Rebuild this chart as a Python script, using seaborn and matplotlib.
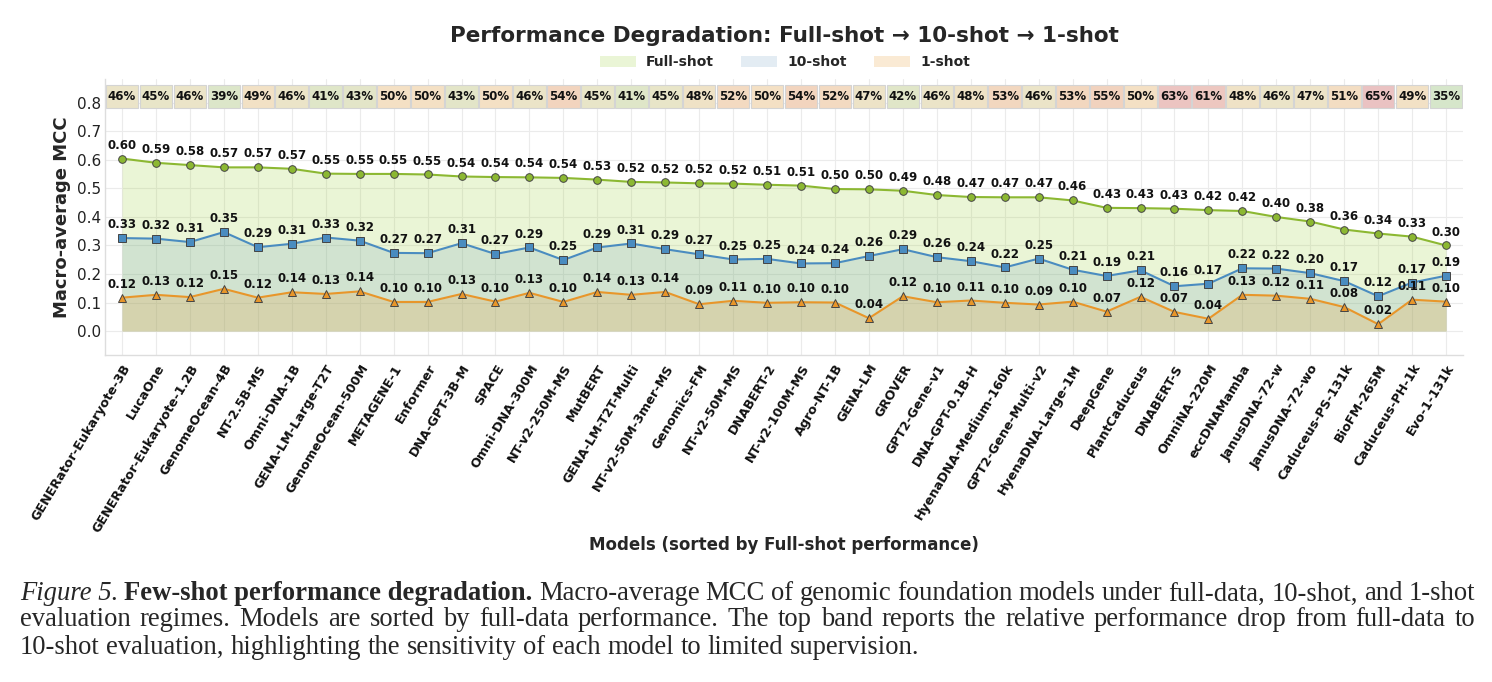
import numpy as np
import matplotlib
matplotlib.use("Agg")
import matplotlib.pyplot as plt
import seaborn as sns
from matplotlib.patches import Rectangle, Patch
from matplotlib.colors import LinearSegmentedColormap, Normalize

# models, sorted by full-shot MCC
models = ['GENERator-Eukaryote-3B', 'LucaOne', 'GENERator-Eukaryote-1.2B', 'GenomeOcean-4B',
          'NT-2.5B-MS', 'Omni-DNA-1B', 'GENA-LM-Large-T2T', 'GenomeOcean-500M', 'METAGENE-1',
          'Enformer', 'DNA-GPT-3B-M', 'SPACE', 'Omni-DNA-300M', 'NT-v2-250M-MS', 'MutBERT',
          'GENA-LM-T2T-Multi', 'NT-v2-50M-3mer-MS', 'Genomics-FM', 'NT-v2-50M-MS', 'DNABERT-2',
          'NT-v2-100M-MS', 'Agro-NT-1B', 'GENA-LM', 'GROVER', 'GPT2-Gene-v1', 'DNA-GPT-0.1B-H',
          'HyenaDNA-Medium-160k', 'GPT2-Gene-Multi-v2', 'HyenaDNA-Large-1M', 'DeepGene',
          'PlantCaduceus', 'DNABERT-S', 'OmniNA-220M', 'eccDNAMamba', 'JanusDNA-72-w',
          'JanusDNA-72-wo', 'Caduceus-PS-131k', 'BioFM-265M', 'Caduceus-PH-1k', 'Evo-1-131k']

full_shot = [0.605, 0.590, 0.582, 0.574, 0.574, 0.569, 0.552, 0.551, 0.551, 0.549,
             0.542, 0.540, 0.539, 0.537, 0.531, 0.523, 0.521, 0.518, 0.517, 0.513,
             0.510, 0.498, 0.497, 0.492, 0.477, 0.470, 0.469, 0.469, 0.458, 0.432,
             0.431, 0.429, 0.424, 0.421, 0.400, 0.384, 0.356, 0.342, 0.331, 0.300]
ten_shot = [0.326, 0.324, 0.312, 0.347, 0.294, 0.306, 0.328, 0.317, 0.274, 0.273,
            0.308, 0.270, 0.293, 0.249, 0.293, 0.307, 0.287, 0.269, 0.251, 0.253,
            0.237, 0.238, 0.263, 0.287, 0.259, 0.245, 0.223, 0.254, 0.215, 0.193,
            0.213, 0.157, 0.166, 0.220, 0.219, 0.203, 0.175, 0.122, 0.170, 0.194]
one_shot = [0.117, 0.127, 0.119, 0.148, 0.117, 0.136, 0.130, 0.139, 0.102, 0.102,
            0.130, 0.103, 0.134, 0.102, 0.137, 0.127, 0.137, 0.094, 0.106, 0.099,
            0.101, 0.100, 0.045, 0.122, 0.101, 0.107, 0.099, 0.093, 0.103, 0.068,
            0.120, 0.067, 0.043, 0.127, 0.124, 0.113, 0.084, 0.024, 0.110, 0.103]
# relative drop full -> 10-shot (%) shown in top band
drop_pct = [46, 45, 46, 39, 49, 46, 41, 43, 50, 50, 43, 50, 46, 54, 45, 41, 45, 48, 52, 50,
            54, 52, 47, 42, 46, 48, 53, 46, 53, 55, 50, 63, 61, 48, 46, 47, 51, 65, 49, 35]

series = [
    ('Full-shot', full_shot, '#8cb832', '#9acd32', 'o', 0.20),
    ('10-shot', ten_shot, '#4a8cc0', '#4682b4', 's', 0.15),
    ('1-shot', one_shot, '#e8962a', '#e8962a', '^', 0.20),
]

sns.set_theme(style='whitegrid')
plt.rcParams['font.family'] = ['DejaVu Sans']

fig = plt.figure(figsize=(14.92, 6.82), dpi=100)
ax = fig.add_axes([0.0704, 0.4795, 0.9102, 0.4047])

x = np.arange(len(models))

for name, vals, lc, fc, mk, alpha in series:
    ax.fill_between(x, 0, vals, color=fc, alpha=alpha, linewidth=0, zorder=1)
    sns.lineplot(x=x, y=vals, color=lc, marker=mk, markersize=5.5, markeredgecolor='#444444',
                 markeredgewidth=0.7, linewidth=1.5, legend=False, ax=ax, zorder=3)
    for xi, v in zip(x, vals):
        ax.annotate(f'{v:.2f}', (xi, v), xytext=(0, 5), textcoords='offset points',
                    ha='center', va='bottom', fontsize=8.5, fontweight='bold', color='#111111', zorder=4)

# top band with relative drop
band_cmap = LinearSegmentedColormap.from_list('drop', [
    (0.0, '#d6e6ca'), (0.23, '#e0e6c8'), (0.37, '#ebe4c8'), (0.5, '#f4e0c4'),
    (0.63, '#f2d4be'), (0.83, '#eec8c0'), (1.0, '#eac2c2')])
band_norm = Normalize(35, 65)
for xi, p in zip(x, drop_pct):
    ax.add_patch(Rectangle((xi - 0.48, 0.783), 0.96, 0.08, facecolor=band_cmap(band_norm(p)),
                           edgecolor='#d4d4d4', linewidth=0.8, zorder=2))
    ax.text(xi, 0.823, f'{p}%', ha='center', va='center', fontsize=8.5, fontweight='bold',
            color='#111111', zorder=4)

ax.set_xlim(-0.5, len(models) - 0.5)
ax.set_ylim(-0.084, 0.884)
ax.set_yticks(np.arange(0, 0.81, 0.1))
ax.set_yticklabels([f'{t:.1f}' for t in np.arange(0, 0.81, 0.1)], fontsize=11, color='#222222')
ax.set_xticks(x)
ax.set_xticklabels(models, rotation=59, ha='right', rotation_mode='anchor',
                   fontsize=9.2, fontweight='bold', color='#111111')
ax.tick_params(axis='x', length=3, color='#cccccc', pad=2)
ax.tick_params(axis='y', length=0, pad=3)
ax.grid(True, color='#ebebeb', linewidth=0.8)
ax.set_axisbelow(True)
for s in ['top', 'right']:
    ax.spines[s].set_visible(False)
for s in ['left', 'bottom']:
    ax.spines[s].set_color('#dddddd')
    ax.spines[s].set_linewidth(1.0)

ax.set_ylabel('Macro-average MCC', fontsize=13, fontweight='bold', labelpad=4)
ax.set_xlabel('Models (sorted by Full-shot performance)', fontsize=12, fontweight='bold', labelpad=1)

fig.text(0.526, 0.947, 'Performance Degradation: Full-shot \u2192 10-shot \u2192 1-shot',
         ha='center', va='center', fontsize=15.5, fontweight='bold')

handles = [Patch(facecolor=fc, alpha=alpha, edgecolor='none', label=name)
           for name, vals, lc, fc, mk, alpha in series]
fig.legend(handles=handles, loc='center', bbox_to_anchor=(0.526, 0.909), ncol=3, frameon=False,
           prop={'size': 10, 'weight': 'bold'}, handlelength=2.6, handleheight=0.8,
           handletextpad=0.7, columnspacing=2.0)

# caption (justified like the paper)
renderer = fig.canvas.get_renderer()
serif = ['Liberation Serif', 'DejaVu Serif']
line2 = 'evaluation regimes. Models are sorted by full-data performance. The top band reports the relative performance drop from full-data to'
x0, x1 = 20, 1475
probe = fig.text(0, 0, line2, family=serif, fontsize=10)
cap_size = 10 * (x1 - x0) / probe.get_window_extent(renderer).width * 0.975
probe.remove()
plain = dict(family=serif, fontsize=cap_size)
cap_lines = [
    ([('Figure 5.', dict(plain, style='italic')), ('Few-shot performance degradation.', dict(plain, weight='bold'))]
     + [(w, plain) for w in 'Macro-average MCC of genomic foundation models under full-data, 10-shot, and 1-shot'.split()], 594, True),
    ([(w, plain) for w in line2.split()], 620, True),
    ([(w, plain) for w in '10-shot evaluation, highlighting the sensitivity of each model to limited supervision.'.split()], 647, False),
]
W, H = fig.get_size_inches() * fig.dpi
a = fig.text(0, 0, 'a b', **plain)
b = fig.text(0, 0, 'ab', **plain)
space = a.get_window_extent(renderer).width - b.get_window_extent(renderer).width
a.remove()
b.remove()
for words, ypix, justify in cap_lines:
    texts = [fig.text(0, 1 - ypix / H, w, ha='left', va='center', **st) for w, st in words]
    widths = [t.get_window_extent(renderer).width for t in texts]
    gap = (x1 - x0 - sum(widths)) / (len(texts) - 1) if justify else space
    cx = x0
    for t, wd in zip(texts, widths):
        t.set_x(cx / W)
        cx += wd + gap

fig.savefig('out.png', dpi=100)
